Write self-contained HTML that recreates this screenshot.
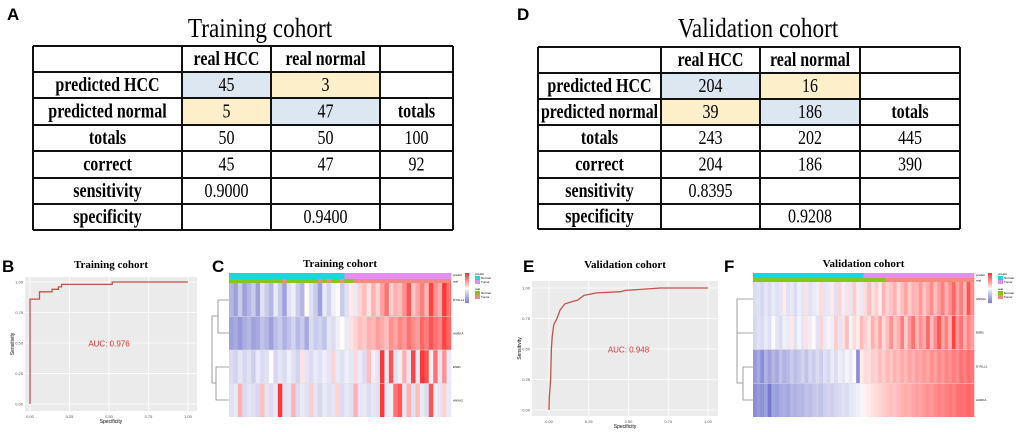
<!DOCTYPE html>
<html><head><meta charset="utf-8"><style>
html,body{margin:0;padding:0;background:#fff;}
svg{display:block;}
.lab{font-family:"Liberation Sans",sans-serif;font-weight:bold;}
.ser{font-family:"Liberation Serif",serif;}
</style></head><body>
<svg id="fig" width="1020" height="432" viewBox="0 0 1020 432" xmlns="http://www.w3.org/2000/svg">
<text class="lab" x="7" y="20" font-size="17">A</text>
<text class="lab" x="517" y="20" font-size="17">D</text>
<text class="lab" x="2" y="272" font-size="17">B</text>
<text class="lab" x="212" y="272" font-size="17">C</text>
<text class="lab" x="523" y="272" font-size="17">E</text>
<text class="lab" x="724" y="272" font-size="17">F</text>
<g id="tables"></g>
<g id="rocs"></g>
<g id="heats"></g>
</svg>
<script>
const NS="http://www.w3.org/2000/svg";
function mk(p,t,a){const e=document.createElementNS(NS,t);for(const k in a)e.setAttribute(k,a[k]);p.appendChild(e);return e;}
function squeeze(e,f){const w=e.getComputedTextLength();if(w>0){e.setAttribute('textLength',(w*f).toFixed(1));e.setAttribute('lengthAdjust','spacingAndGlyphs');}}

// ---- tables ----
const rowLabels=["","predicted HCC","predicted normal","totals","correct","sensitivity","specificity"];
const colHeads=["real HCC","real normal",""];
const trainCells=[["45","3",""],["5","47","totals"],["50","50","100"],["45","47","92"],["0.9000","",""],["","0.9400",""]];
const validCells=[["204","16",""],["39","186","totals"],["243","202","445"],["204","186","390"],["0.8395","",""],["","0.9208",""]];
const tg=document.getElementById('tables');
function table(title,cells,xs,ys,tx,nm){
  const g=mk(tg,'g',{});
  
  
  const t=mk(g,'text',{x:tx,y:37,'font-size':27,'text-anchor':'middle','class':'ser'});t.textContent=title;
  
  
  squeeze(t,0.86);
  const fills={"0,0":"#dde7f2","1,1":"#dde7f2","0,1":"#fcefc9","1,0":"#fcefc9"};
  for(let r=0;r<6;r++)for(let c=0;c<2;c++){const f=fills[r+","+c];if(f)mk(g,'rect',{x:xs[c+1]+1,y:ys[r+1]+1,width:xs[c+2]-xs[c+1]-2,height:ys[r+2]-ys[r+1]-2,fill:f});}
  for(let r=0;r<7;r++){
    const cy=(ys[r]+ys[r+1])/2+6;
    const lab=rowLabels[r];
    if(lab){const e=mk(g,'text',{x:(xs[0]+xs[1])/2,y:cy,'font-size':20,'font-weight':'bold','text-anchor':'middle','class':'ser'});e.textContent=lab;
      
      
      const w=e.getComputedTextLength();const f=Math.min(0.8,(xs[1]-xs[0]-6)/w);squeeze(e,f);}
    for(let c=0;c<3;c++){
      const s=r===0?colHeads[c]:cells[r-1][c];
      if(!s)continue;
      const bold=r===0||s==="totals";
      const e=mk(g,'text',{x:(xs[c+1]+xs[c+2])/2,y:cy,'font-size':20,'font-weight':bold?'bold':'normal','text-anchor':'middle','class':'ser'});e.textContent=s;
      
      
      squeeze(e,0.8);
    }
  }
  for(const y of ys)mk(g,'line',{x1:xs[0],x2:xs[4],y1:y,y2:y,stroke:'#111','stroke-width':2});
  for(const x of xs)mk(g,'line',{x1:x,x2:x,y1:ys[0],y2:ys[7],stroke:'#111','stroke-width':2});
}
table("Training cohort",trainCells,[33,182,271,380,453],[46,72,98,125,151,178,204,230],260,'training-table');
table("Validation cohort",validCells,[538,661,760,860,960],[47,73,99,125,151,178,204,229],758,'validation-table');

// ---- ROC ----
const rocB_fpr=[0,0,0.06,0.06,0.14,0.14,0.18,0.18,0.2,0.2,0.52,0.52,1];
const rocB_tpr=[0,0.86,0.86,0.92,0.92,0.94,0.94,0.96,0.96,0.98,0.98,1,1];
const rocE_fpr=[0,0.002,0.01,0.015,0.02,0.03,0.05,0.07,0.1,0.15,0.18,0.22,0.3,0.45,0.48,0.7,1];
const rocE_tpr=[0,0.1,0.25,0.5,0.6,0.7,0.75,0.82,0.87,0.89,0.9,0.94,0.96,0.97,0.98,1,1];
const rocTicks=["0.00","0.25","0.50","0.75","1.00"];
const rg=document.getElementById('rocs');
function roc(fpr,tpr,P,title,auc,nm){
  const g=mk(rg,'g',{});
  
  
  const sx=v=>P.x0+v*(P.x1-P.x0), sy=v=>P.y0-v*(P.y0-P.y1);
  const t=mk(g,'text',{x:(P.l+P.r)/2,y:268,'font-size':11,'font-weight':'bold','text-anchor':'middle','class':'ser'});t.textContent=title;
  
  
  mk(g,'rect',{x:P.l,y:P.t,width:P.r-P.l,height:P.b-P.t,fill:'#ebebeb'});
  for(let i=0;i<5;i++){const v=i/4;
    mk(g,'line',{x1:sx(v),x2:sx(v),y1:P.t,y2:P.b,stroke:'#fff','stroke-width':0.8});
    mk(g,'line',{x1:P.l,x2:P.r,y1:sy(v),y2:sy(v),stroke:'#fff','stroke-width':0.8});
    const a=mk(g,'text',{x:sx(v),y:P.b+7,'font-size':4,'text-anchor':'middle',fill:'#555','font-family':'Liberation Sans'});a.textContent=rocTicks[i];
    
    
    const b=mk(g,'text',{x:P.l-2,y:sy(v)+1.5,'font-size':4,'text-anchor':'end',fill:'#555','font-family':'Liberation Sans'});b.textContent=rocTicks[i];
    
    
  }
  let d='';fpr.forEach((f,i)=>{d+=(i?'L':'M')+sx(f).toFixed(1)+' '+sy(tpr[i]).toFixed(1);});
  const p=mk(g,'path',{d:d,fill:'none',stroke:'#c8504a','stroke-width':1.3});
  
  
  const a=mk(g,'text',{x:sx(0.5),y:sy(0.47),'font-size':8,'text-anchor':'middle',fill:'#f03030','font-family':'Liberation Sans'});a.textContent=auc;
  
  
  const xl=mk(g,'text',{x:(P.l+P.r)/2,y:P.b+12,'font-size':5,'text-anchor':'middle','font-family':'Liberation Sans'});xl.textContent='Specificity';
  
  
  const yl=mk(g,'text',{x:0,y:0,'font-size':5,'text-anchor':'middle','font-family':'Liberation Sans',transform:`translate(${P.l-11},${(P.t+P.b)/2}) rotate(-90)`});yl.textContent='Sensitivity';
  
  
}
roc(rocB_fpr,rocB_tpr,{l:25,r:197,t:277,b:411,x0:30,x1:188,y0:404,y1:282},"Training cohort","AUC: 0.976",'roc-training');
roc(rocE_fpr,rocE_tpr,{l:532,r:718,t:281,b:416,x0:549,x1:708,y0:410,y1:288},"Validation cohort","AUC: 0.948",'roc-validation');

// ---- heatmaps ----
const cRow1=[-1.5,-2,-1,-2,-1.5,-1,-2,-0.5,-1,-1.5,-0.3,-1,-2,-0.5,-0.2,-1,-1.5,0,-0.5,-1,-2,-0.3,-0.8,-0.2,0,-1,-0.5,0.2,-0.3,0.5,0.8,0.3,1,0.5,1.2,2,0.6,1,0.8,1.5,2.5,0.7,1.2,1.8,0.9,2.8,1.5,1,3,2];
const cRow2=[-2,-1.8,-2.2,-1.7,-1.5,-2,-1.8,-1.2,-1.5,-2,-1.3,-1,-1.6,-1.2,-0.8,-1.4,-1,-1.8,-0.6,-1,-0.8,-1.2,-0.4,-0.6,-0.2,0,-0.3,0.3,0.5,0.8,0.6,1,0.9,1.3,1.1,0.8,1.5,1.2,1.7,1.4,2,1.6,1.3,2.2,1.8,2.5,2,1.7,2.8,2.2];
const cRow3=[-0.6,-0.8,-0.4,-0.7,-0.5,-0.9,-0.3,-0.6,-0.5,0,-0.7,-0.4,-0.6,-0.2,-0.5,-0.8,0.3,-0.4,-0.6,-0.3,-0.5,-0.2,-0.4,0.5,-0.3,-0.5,-0.2,-0.4,0.4,-0.3,-0.6,0.8,-0.2,-0.4,3,-0.3,2.5,-0.5,-0.2,1,-0.4,2.8,-0.3,3,2.5,-0.2,2,-0.4,1.5,-0.3];
const cRow4=[-0.5,-0.3,1,-0.6,-0.4,-0.5,-0.7,0.8,-0.4,-0.6,-0.3,3,-0.5,-0.4,1,-0.6,-0.3,-0.5,0.6,-0.4,-0.7,-0.3,-0.5,-0.4,0.5,-0.6,-0.3,-0.5,1,-0.4,-0.3,-0.6,-0.4,-0.5,3,-0.3,-0.2,2,2.5,-0.4,1,-0.5,0.8,-0.3,-0.6,2.5,-0.2,-0.4,0.5,-0.3];
const cPredict=[0,0,0,0,0,0,0,0,0,0,0,0,0,0,0,0,0,0,0,0,0,0,0,0,0,0,1,1,1,1,1,1,1,1,1,1,1,1,1,1,1,1,1,1,1,1,1,1,1,1];
const cReal=[0,0,0,0,0,0,0,0,0,0,0,0,1,0,0,0,0,0,0,0,1,0,1,0,0,1,0,0,1,1,1,1,1,1,1,1,1,1,1,1,1,1,1,1,1,1,1,1,1,1];
const cGenes=["DYNLL1","AURKA","ESR1","ANXA2"];
const fRow1=[-0.6,-0.5,-0.7,-0.4,-0.6,-0.3,-0.5,-0.4,0.2,-0.5,-0.3,-0.6,-0.2,-0.4,0.3,-0.5,-0.3,-0.2,0.4,-0.4,-0.3,0.2,-0.5,0.5,-0.2,0.3,-0.4,0.6,0.2,-0.3,0.4,0.8,0.3,0.6,0.2,0.9,0.5,0.7,1,0.4,0.8,1.2,0.6,1,0.9,1.4,0.7,1.1,1.6,0.8,1.3,1.8,1,1.5,2.2,1.2,1.8,0.9,2.5,1.5];
const fRow2=[-0.7,-0.5,-0.6,-0.3,-0.5,0,-0.4,-0.6,-0.2,-0.3,0.2,-0.5,-0.1,-0.4,0.3,-0.2,0,-0.5,0.5,-0.3,0.1,-0.2,0.6,-0.4,0.3,0.8,-0.1,0.4,0.2,0.9,0.5,0.3,1,0.6,1.2,0.4,0.8,1.5,0.7,1,1.8,0.6,1.3,2,0.9,1.5,1.1,2.2,0.8,1.6,2.5,1.2,1.8,0.9,2.8,1.4,2,1.1,1.7,1.3];
const fRow3=[-2.2,-1.8,-2.5,-1.6,-2,-1.5,-1.8,-1.2,-1.6,-1.4,-1,-1.3,-1.1,-0.8,-1.2,-0.7,-1,-0.6,-0.9,-0.5,-0.7,-0.3,-0.6,-0.2,-0.4,-0.1,-0.3,0,-2.5,0.2,0.4,0.3,0.6,0.5,0.8,0.6,0.9,0.7,1,0.8,1.1,0.9,1.2,1,1.3,1.1,1.4,1.2,1.5,1.3,1.6,1.4,1.7,1.5,1.8,1.6,2,1.8,2.1,1.9];
const fRow4=[-2.5,-2.2,-2.4,-2,-3,-1.9,-2.1,-1.8,-1.7,-1.9,-1.5,-1.6,-1.4,-1.5,-1.2,-1.3,-1.1,-1,-1.2,-0.9,-0.8,-0.9,-0.7,-0.6,-0.5,-0.6,-0.4,-0.3,-0.2,-0.1,0.1,0.2,0.3,0.4,0.5,0.6,0.7,0.8,0.7,0.9,1,1.1,1,1.2,1.3,1.2,1.4,1.5,1.4,1.6,1.7,1.6,1.8,1.9,1.8,2,2.1,2,2.2,2.1];
const fPredict=[0,0,0,0,0,0,0,0,0,0,0,0,0,0,0,0,0,0,0,0,0,0,0,0,0,0,0,0,0,0,1,1,1,1,1,1,1,1,1,1,1,1,1,1,1,1,1,1,1,1,1,1,1,1,1,1,1,1,1,1];
const fReal=[0,0,0,0,0,0,0,0,0,0,0,0,0,0,0,0,0,0,0,0,0,0,0,0,0,0,0,0,0,0,0,0,0,0,0,0,1,1,1,1,1,1,1,1,1,1,1,1,1,1,1,1,1,1,1,1,1,1,1,1];
const fGenes=["ANXA2","ESR1","DYNLL1","AURKA"];
function col(v){v=Math.max(-3,Math.min(3,v));
  if(v<0){const t=Math.pow(-v/3,0.9)*0.75;return `rgb(${Math.round(250-t*175)},${Math.round(250-t*170)},${Math.round(252-t*60)})`;}
  const t=Math.pow(v/3,0.9)*0.85;return `rgb(255,${Math.round(250-t*230)},${Math.round(250-t*230)})`;}
const hg=document.getElementById('heats');
function heat(rows,pred,real,genes,H,title,dendro,nm){
  const g=mk(hg,'g',{});
  
  
  const t=mk(g,'text',{x:(H.l+H.r)/2,y:267,'font-size':11,'font-weight':'bold','text-anchor':'middle','class':'ser'});t.textContent=title;
  
  
  const n=rows[0].length, cw=(H.r-H.l)/n, rh=(H.b-H.t)/rows.length;
  pred.forEach((p,i)=>{const r=mk(g,'rect',{x:H.l+i*cw,y:H.pt,width:cw+0.3,height:H.rt-H.pt,fill:p?'#e38ef0':'#19d6e0'});
    
    });
  real.forEach((p,i)=>{const r=mk(g,'rect',{x:H.l+i*cw,y:H.rt,width:cw+0.3,height:H.t-H.rt,fill:p?'#f58a80':'#86c51a'});
    
    });
  rows.forEach((row,j)=>row.forEach((v,i)=>{const r=mk(g,'rect',{x:H.l+i*cw,y:H.t+j*rh,width:cw+0.3,height:rh,fill:col(v)});
    
    }));
  for(let j=1;j<rows.length;j++)mk(g,'line',{x1:H.l,x2:H.r,y1:H.t+j*rh,y2:H.t+j*rh,stroke:'#ddd','stroke-width':0.6});
  genes.forEach((s,j)=>{const e=mk(g,'text',{x:H.r+2,y:H.t+(j+0.5)*rh+1,'font-size':3,'font-family':'Liberation Sans'});e.textContent=s;
    
    });
  const pl=mk(g,'text',{x:H.r+2,y:H.pt+3,'font-size':3,'font-family':'Liberation Sans'});pl.textContent='predict';
  const rl=mk(g,'text',{x:H.r+2,y:H.rt+3.5,'font-size':3,'font-family':'Liberation Sans'});rl.textContent='real';
  mk(g,'path',{d:dendro,fill:'none',stroke:'#888','stroke-width':0.8});
  const lx=H.r+14;
  for(let k=0;k<30;k++)mk(g,'rect',{x:lx,y:H.pt+k,width:4,height:1.1,fill:col(3-k*0.2)});
  const lg=mk(g,'g',{});
  
  
  [['predict',null,0],['Normal','#19d6e0',4],['Tumor','#e38ef0',8],['real',null,15],['Normal','#86c51a',19],['Tumor','#f58a80',23]].forEach(a=>{
    if(a[1])mk(lg,'rect',{x:lx+10,y:H.pt+a[2]-1,width:5,height:4,fill:a[1]});
    const e=mk(lg,'text',{x:lx+(a[1]?16:10),y:H.pt+a[2]+2,'font-size':3,'font-family':'Liberation Sans'});e.textContent=a[0];
    
    
  });
}
heat([cRow1,cRow2,cRow3,cRow4],cPredict,cReal,cGenes,{l:229,r:451,pt:273,rt:279,t:283,b:417},"Training cohort",
 "M229 300H218V333H229M218 316H212V383H216M229 367H216V400H229",'heatmap-training');
heat([fRow1,fRow2,fRow3,fRow4],fPredict,fReal,fGenes,{l:753,r:974,pt:273,rt:278,t:282,b:417},"Validation cohort",
 "M753 299H737V333H753M753 367H743V400H753M737 316V383H743",'heatmap-validation');
</script>
</body></html>
